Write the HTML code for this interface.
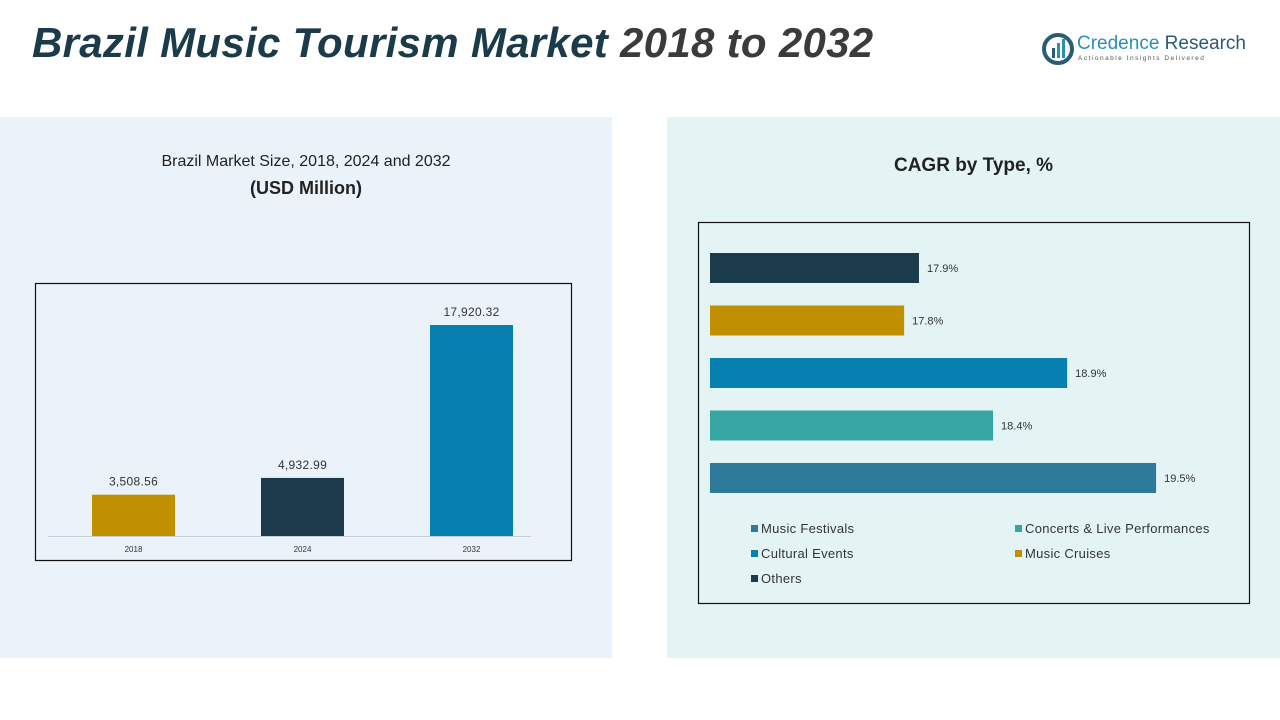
<!DOCTYPE html>
<html><head><meta charset="utf-8"><style>
body{margin:0;width:1280px;height:720px;background:#fff;position:relative;overflow:hidden;font-family:"Liberation Sans",sans-serif}
.abs{position:absolute}
</style></head><body>
<div class="abs" style="left:0;top:117px;width:612px;height:541px;background:#eaf3f9"></div>
<div class="abs" style="left:667px;top:117px;width:613px;height:541px;background:#e4f4f5"></div>
<div class="abs" style="left:32px;top:19px;font-size:42px;font-weight:bold;font-style:italic;color:#1b3a4a;letter-spacing:0.3px;white-space:nowrap">Brazil Music Tourism Market <span style="color:#3b3b3b">2018 to 2032</span></div>
<div class="abs" style="left:1042px;top:32px;width:210px;height:36px">
<svg width="34" height="34" viewBox="0 0 34 34" style="position:absolute;left:0;top:0"><circle cx="16" cy="17" r="14" fill="none" stroke="#2a5b77" stroke-width="4"/><rect x="10" y="16" width="3" height="10" fill="#2a5b77"/><rect x="15" y="11" width="3" height="15" fill="#2a8fb5"/><rect x="20" y="7" width="3" height="19" fill="#2a8fb5"/></svg>
<div class="abs" style="left:35px;top:1px;font-size:19px;color:#2a8fb5;white-space:nowrap">Credence <span style="color:#2a5b77">Research</span></div>
<div class="abs" style="left:36px;top:23px;font-size:6.5px;color:#555;letter-spacing:1.5px;white-space:nowrap">Actionable Insights Delivered</div>
</div>
<div class="abs" style="left:0;width:612px;top:153px;text-align:center;font-size:16px;color:#222">Brazil Market Size, 2018, 2024 and 2032</div>
<div class="abs" style="left:0;width:612px;top:178px;text-align:center;font-size:18px;font-weight:bold;color:#222">(USD Million)</div>
<div class="abs" style="left:667px;width:613px;top:155px;text-align:center;font-size:19px;font-weight:bold;color:#222">CAGR by Type, %</div>
<svg class="abs" style="left:0;top:0" width="1280" height="720" id="svg">
<rect x="35.5" y="283.5" width="536" height="277" fill="none" stroke="#111" stroke-width="1.2"/>
<line x1="48" y1="536.5" x2="531" y2="536.5" stroke="#ccd" stroke-width="1"/>
<rect x="698.5" y="222.5" width="551" height="381" fill="none" stroke="#111" stroke-width="1.2"/>
</svg>
<script>
const years=["2018","2024","2032"];
const sizes=[3508.56,4932.99,17920.32];
const sizeLabels=["3,508.56","4,932.99","17,920.32"];
const types=["Others","Music Cruises","Cultural Events","Concerts & Live Performances","Music Festivals"];
const cagr=[17.9,17.8,18.9,18.4,19.5];
const cagrLabels=["17.9%","17.8%","18.9%","18.4%","19.5%"];
const legendOrder=["Music Festivals","Concerts & Live Performances","Cultural Events","Music Cruises","Others"];
const colorMap={"Others":"#1b3a4a","Music Cruises":"#c09000","Cultural Events":"#0580b0","Concerts & Live Performances":"#36a6a4","Music Festivals":"#2e7a9a"};
const yearColors=["#c09000","#1b3a4a","#0580b0"];
const svg=document.getElementById('svg');const NS="http://www.w3.org/2000/svg";
function mk(t,a){const e=document.createElementNS(NS,t);for(const k in a)e.setAttribute(k,a[k]);svg.appendChild(e);return e;}
const base=536,yScale=v=>v*211/17920.32;
const xBand=i=>92+i*169;
years.forEach((y,i)=>{
 const h=yScale(sizes[i]);
 const r=mk('rect',{x:xBand(i),y:base-h,width:83,height:h,fill:yearColors[i]});
 
 
 const t=mk('text',{x:xBand(i)+41.5,y:base-h-9,'text-anchor':'middle','font-size':12,fill:'#333','letter-spacing':'0.3'});t.textContent=sizeLabels[i];
 
 
 const l=mk('text',{x:xBand(i)+41.5,y:552,'text-anchor':'middle','font-size':8,fill:'#333'});l.textContent=y;
 
 
});
const xs=v=>(v-16.49)*148.2;
types.forEach((ty,i)=>{
 const y=253+i*52.5,w=xs(cagr[i]);
 const r=mk('rect',{x:710,y:y,width:w,height:30,fill:colorMap[ty]});
 
 
 const t=mk('text',{x:710+w+8,y:y+19,'font-size':11,fill:'#333'});t.textContent=cagrLabels[i];
 
 
});
legendOrder.forEach((n,i)=>{
 const col=i%2,row=Math.floor(i/2);
 const x=col?1015:751,y=525+row*25;
 const s=mk('rect',{x:x,y:y,width:7,height:7,fill:colorMap[n]});
 
 
 const t=mk('text',{x:x+10,y:y+8,'font-size':13,fill:'#333','letter-spacing':'0.3'});t.textContent=n;
 
 
});
</script>
</body></html>
